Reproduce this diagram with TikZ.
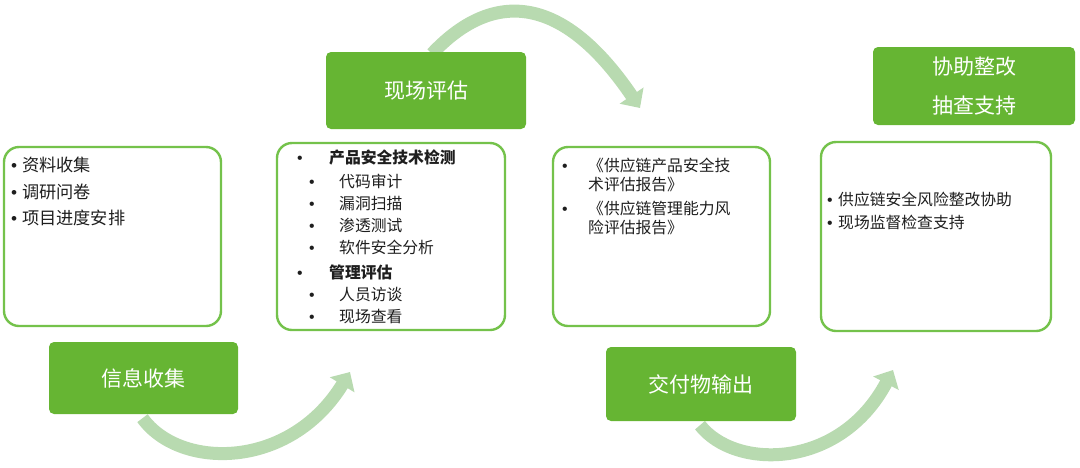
\documentclass[tikz,border=0pt]{standalone}
\usepackage{fontspec}
\setmainfont{Noto Sans CJK SC}
\newfontfamily\latinfont{Liberation Sans}
\usetikzlibrary{arrows.meta}
\definecolor{gfill}{HTML}{66B533}
\definecolor{gline}{HTML}{74C24B}
\definecolor{garrow}{HTML}{B8DAB0}
\definecolor{txt}{HTML}{1E1E1E}
\newcommand{\bul}[1]{\makebox[#1][l]{\latinfont •}}
\begin{document}
\begin{tikzpicture}[x=1pt,y=-1pt,
 panel/.style={draw=gline, line width=2.4pt, rounded corners=15pt, fill=white, inner sep=0pt},
 tag/.style={fill=gfill, rounded corners=5pt, text=white, font=\fontsize{21}{39}\selectfont, align=center, inner sep=0pt},
 item/.style={anchor=west, text=txt, font=\fontsize{15.8}{18}\selectfont, inner sep=0pt},
 itembig/.style={item, font=\fontsize{17.2}{20}\selectfont},
 flow/.style={draw=garrow, line width=13pt, -{Triangle[width=28pt,length=15pt]}}
]
\useasboundingbox (0,0) rectangle (1080,467);

% end points of the curved arrows
\coordinate (e1) at (350,372);
\coordinate (e2) at (640,108);
\coordinate (e3) at (893,370);

% green tags (positions first, so arrows can be drawn below them)
\path (143.5,378) node[minimum width=189pt, minimum height=72pt] (t1) {}
      (426,90.5)  node[minimum width=200pt, minimum height=77pt] (t2) {}
      (701,384)   node[minimum width=190pt, minimum height=74pt] (t3) {}
      (974,86)    node[minimum width=202pt, minimum height=78pt] (t4) {};

% curved arrows
\draw[flow] ([xshift=-1pt,yshift=-4pt]t1.south) .. controls (180,470) and (290,470) .. (e1);
\draw[flow] ([xshift=6pt,yshift=-2pt]t2.north) .. controls (490,-8) and (560,-10) .. (e2);
\draw[flow] ([xshift=-1pt,yshift=-4pt]t3.south) .. controls (735,470) and (840,470) .. (e3);

% tags drawn on top
\node[tag, minimum width=189pt, minimum height=72pt] (g1) at (t1) {信息收集};
\node[tag, minimum width=200pt, minimum height=77pt] (g2) at (t2) {现场评估};
\node[tag, minimum width=190pt, minimum height=74pt] (g3) at (t3) {交付物输出};
\node[tag, minimum width=202pt, minimum height=78pt] (g4) at (t4) {协助整改\\抽查支持};

% panels
\node[panel, minimum width=217pt, minimum height=179pt] (p1) at (112.5,236.5) {};
\node[panel, minimum width=228pt, minimum height=187pt] (p2) at (391,236.5) {};
\node[panel, minimum width=217pt, minimum height=179pt] (p3) at (661.5,236.5) {};
\node[panel, minimum width=230pt, minimum height=189pt] (p4) at (936,236.5) {};

% panel 1
\node[itembig] (a1) at (11,165)   {\bul{11pt}资料收集};
\node[itembig] (a2) at (11,191.5) {\bul{11pt}调研问卷};
\node[itembig] (a3) at (11,218)   {\bul{11pt}项目进度安排};

% panel 2
\node[item] (b1) at (297,157) {\bul{32pt}\bfseries 产品安全技术检测};
\node[item] (b2) at (309,181) {\bul{30pt}代码审计};
\node[item] (b3) at (309,203) {\bul{30pt}漏洞扫描};
\node[item] (b4) at (309,225) {\bul{30pt}渗透测试};
\node[item] (b5) at (309,247) {\bul{30pt}软件安全分析};
\node[item] (b6) at (297,272) {\bul{32pt}\bfseries 管理评估};
\node[item] (b7) at (309,295) {\bul{30pt}人员访谈};
\node[item] (b8) at (309,317) {\bul{30pt}现场查看};

% panel 3
\node[item] (c1) at (562,165) {\bul{26pt}《供应链产品安全技};
\node[item] (c2) at (588,185) {术评估报告》};
\node[item] (c3) at (562,208) {\bul{26pt}《供应链管理能力风};
\node[item] (c4) at (588,228) {险评估报告》};

% panel 4
\node[item] (d1) at (827,199)   {\bul{11pt}供应链安全风险整改协助};
\node[item] (d2) at (827,222.5) {\bul{11pt}现场监督检查支持};
\end{tikzpicture}
\end{document}
